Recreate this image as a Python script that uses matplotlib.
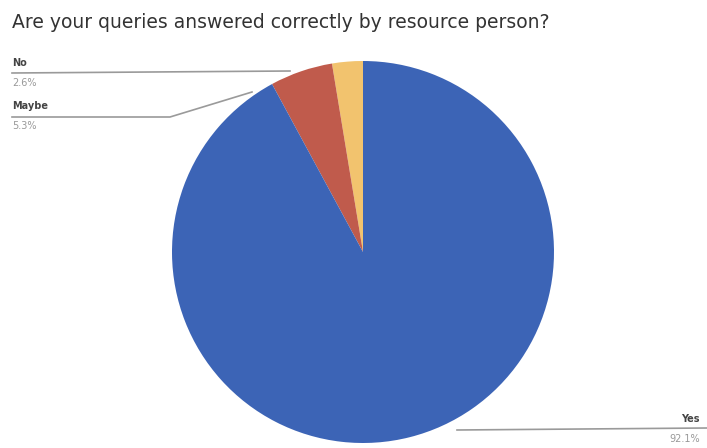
import matplotlib
matplotlib.use('Agg')
import matplotlib.pyplot as plt
from matplotlib.lines import Line2D

labels = ['No', 'Maybe', 'Yes']
shares = [2.6, 5.3, 92.1]
colors = ['#f2c36e', '#c05b4c', '#3c64b6']

fig = plt.figure(figsize=(7.07, 4.48), dpi=100)
fig.patch.set_facecolor('white')

W, H = 707, 448
cx, cy, r = 363, 252, 191
ax = fig.add_axes([(cx - r) / W, (H - cy - r) / H, 2 * r / W, 2 * r / H])
ax.pie(shares, colors=colors, startangle=90, counterclock=True,
       wedgeprops={'linewidth': 0})
ax.set_xlim(-1, 1)
ax.set_ylim(-1, 1)
ax.set_aspect('equal')
ax.axis('off')

fig.text(12 / W, 1 - 22 / H, 'Are your queries answered correctly by resource person?',
         fontsize=13.5, color='#333333', va='center', ha='left')


def px(x, y):
    return x / W, 1 - y / H


# leader lines (pixel positions, y measured from top)
leaders = {
    'No': [(12, 73), (290, 71)],
    'Maybe': [(12, 117), (170, 117), (252, 92)],
    'Yes': [(457, 430), (707, 428)],
}
for pts in leaders.values():
    xs = [px(*p)[0] for p in pts]
    ys = [px(*p)[1] for p in pts]
    fig.add_artist(Line2D(xs, ys, transform=fig.transFigure, color='#9a9a9a', lw=1.2))

label_pos = {'No': (12, 63, 'left'), 'Maybe': (12, 106, 'left'), 'Yes': (700, 419, 'right')}
for name, val in zip(labels, shares):
    x, y, ha = label_pos[name]
    fig.text(*px(x, y), name, fontsize=7, fontweight='bold', color='#444444', ha=ha, va='center')
    fig.text(*px(x, y + 20), f'{val}%', fontsize=7, color='#999999', ha=ha, va='center')

fig.savefig('out.png', dpi=100, facecolor='white')
